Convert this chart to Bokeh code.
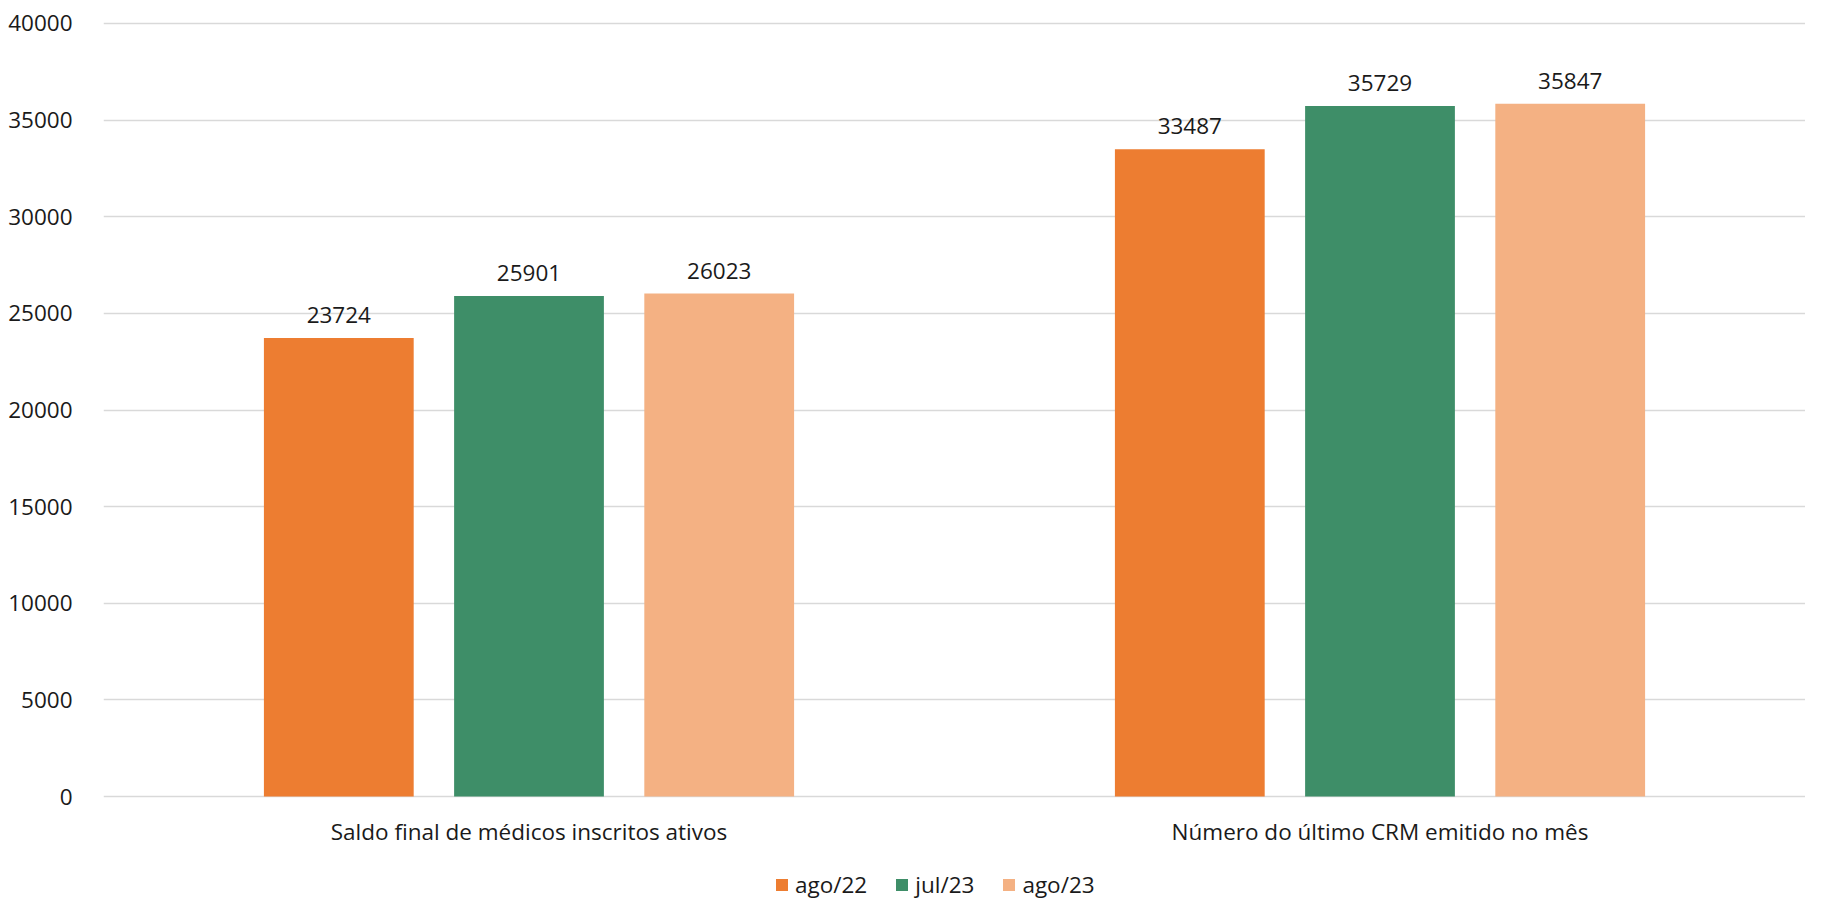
from bokeh.plotting import figure
from bokeh.layouts import column
from bokeh.models import (ColumnDataSource, FactorRange, Legend, LegendItem,
                          FixedTicker, NumeralTickFormatter, Range1d)
from bokeh.transform import dodge
from bokeh.core.properties import value
from bokeh.embed import file_html
from bokeh.resources import INLINE

categories = ["Saldo final de médicos inscritos ativos", "Número do último CRM emitido no mês"]
series_names = ["ago/22", "jul/23", "ago/23"]
ago22 = [23724, 33487]
jul23 = [25901, 35729]
ago23 = [26023, 35847]
y_ticks = [0, 5000, 10000, 15000, 20000, 25000, 30000, 35000, 40000]

colors = ["#ED7D31", "#3E8E68", "#F4B183"]
FONT = "Open Sans"
FS = "22.5px"

data = dict(cat=categories, s0=ago22, s1=jul23, s2=ago23,
            l0=[str(v) for v in ago22], l1=[str(v) for v in jul23], l2=[str(v) for v in ago23])
src = ColumnDataSource(data)

p = figure(x_range=FactorRange(factors=categories, range_padding=0),
           y_range=Range1d(-100, 40100),
           frame_width=1702, frame_height=777, output_backend="svg", toolbar_location=None,
           min_border_left=103, min_border_right=0, min_border_top=21, min_border_bottom=60)
p.outline_line_color = None
p.background_fill_color = "white"
p.border_fill_color = "white"

offsets = [-0.2235, 0.0, 0.2235]
for i, (off, col) in enumerate(zip(offsets, colors)):
    p.vbar(x=dodge("cat", off, range=p.x_range), top=f"s{i}", width=0.176,
           source=src, fill_color=col, line_color=None)
    p.text(x=dodge("cat", off, range=p.x_range), y=f"s{i}", text=f"l{i}", source=src,
           text_align="center", text_baseline="bottom", y_offset=-15,
           text_font=value(FONT), text_font_size=FS, text_color="#1a1a1a")

p.xgrid.grid_line_color = None
p.ygrid.grid_line_color = "#d9d9d9"
p.ygrid.grid_line_width = 1.5

p.yaxis.ticker = FixedTicker(ticks=y_ticks)
p.yaxis.formatter = NumeralTickFormatter(format="0")
for ax in (p.xaxis[0], p.yaxis[0]):
    ax.axis_line_color = None
    ax.major_tick_line_color = None
    ax.minor_tick_line_color = None
    ax.major_label_text_font = FONT
    ax.major_label_text_font_size = FS
    ax.major_label_text_color = "#1a1a1a"
p.yaxis.major_label_standoff = 25
p.xaxis.major_label_standoff = 11

# legend strip below the chart (same series; their bars lie outside this strip's y view)
leg_fig = figure(x_range=p.x_range, y_range=Range1d(50000, 60000),
                 frame_width=1702, frame_height=42, output_backend="svg", toolbar_location=None,
                 x_axis_location=None, y_axis_location=None,
                 min_border_left=103, min_border_right=0, min_border_top=0, min_border_bottom=0)
leg_fig.outline_line_color = None
leg_fig.grid.visible = False
leg_renderers = []
for i, (off, col) in enumerate(zip(offsets, colors)):
    r = leg_fig.vbar(x=dodge("cat", off, range=leg_fig.x_range), top=f"s{i}", width=0.176,
                     source=src, fill_color=col, line_color=None)
    leg_renderers.append(r)

legend = Legend(items=[LegendItem(label=n, renderers=[r]) for n, r in zip(series_names, leg_renderers)],
                orientation="horizontal", location=(671, 0),
                border_line_color=None, background_fill_alpha=0,
                glyph_width=15, glyph_height=15, label_standoff=6, spacing=27,
                label_text_font=FONT, label_text_font_size=FS, label_text_color="#1a1a1a",
                padding=0, margin=0)
leg_fig.add_layout(legend, "center")

layout = column(p, leg_fig, spacing=0)
open("out.html", "w").write(file_html(layout, INLINE))
